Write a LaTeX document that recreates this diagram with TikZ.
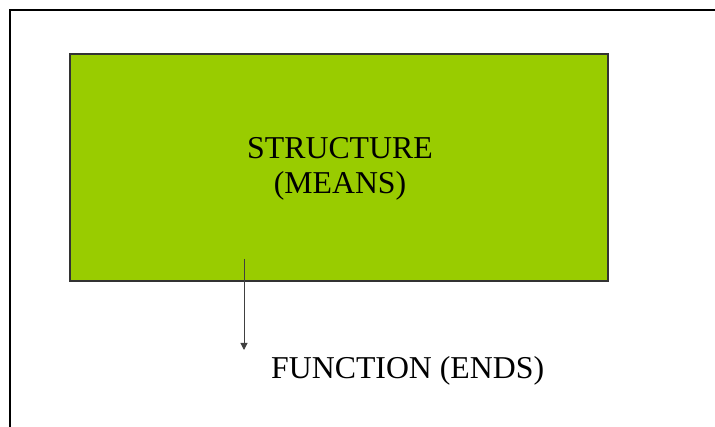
\documentclass[tikz,border=0pt]{standalone}
\usepackage{fontspec}
\setmainfont{Liberation Serif}
\usetikzlibrary{arrows.meta}
\definecolor{leaf}{HTML}{99CC00}
\definecolor{edge}{HTML}{333333}
\definecolor{wire}{HTML}{404040}
\tikzset{
  x=1pt, y=-1pt,
  panel/.style={draw=edge, line width=1.6pt, fill=leaf},
  caption/.style={font=\fontsize{31.8}{35.5}\selectfont, align=center, inner sep=0pt},
  link/.style={draw=wire, line width=1pt, -{Triangle[width=7pt,length=7pt]}}
}
\begin{document}
\begin{tikzpicture}
  \useasboundingbox (0,0) rectangle (715,427);
  \begin{scope}
    \clip (0,0) rectangle (715,427);
    \draw[line width=1.2pt] (10,10) rectangle (740,450);
  \end{scope}
  % the structure block
  \path[panel] (70,54) rectangle (608,281);
  \node[caption] (structure) at (340,169) {STRUCTURE\\(MEANS)};
  \node[caption, anchor=west] (fn) at (271,371) {FUNCTION (ENDS)};
  \coordinate (from) at (244,259);
  \coordinate (to) at (244,350);
  \draw[link] (from) -- (to);
\end{tikzpicture}
\end{document}
